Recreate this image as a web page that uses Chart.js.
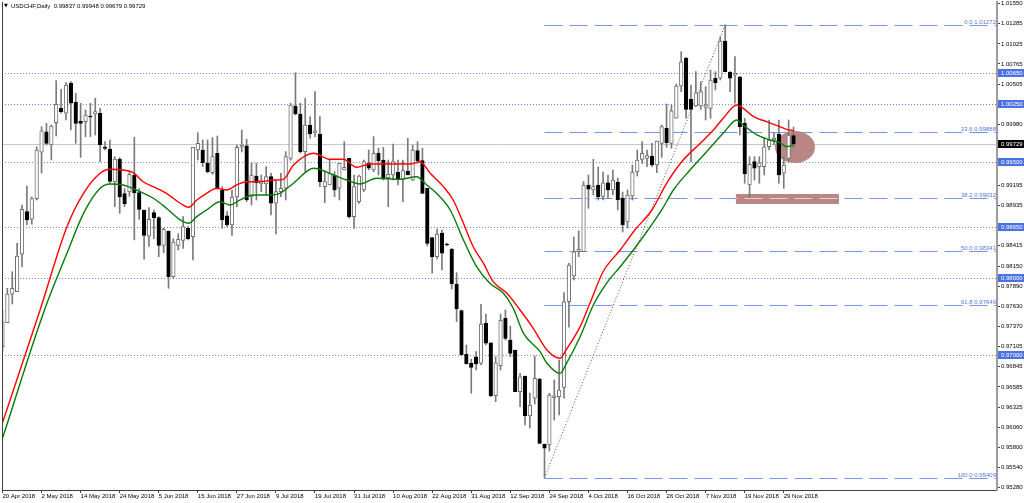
<!DOCTYPE html>
<html>
<head>
<meta charset="utf-8">
<script src="https://cdn.jsdelivr.net/npm/chart.js@4.4.1/dist/chart.umd.min.js"></script>
<style>
html, body { margin: 0; padding: 0; background: #fff; }
canvas { display: block; }
</style>
</head>
<body>
<canvas id="myChart" width="1024" height="503"></canvas>
<script>
'use strict';

const symbolName = 'USDCHF,Daily';

// daily candles, bar 0 = 20 Apr 2018 ... bar 162 = 3 Dec 2018
const opens = [
  0.97106, 0.97416, 0.97786, 0.97818, 0.98302, 0.98853, 0.98755, 0.99023, 0.99622, 0.99888,
  0.99716, 1.00004, 1.00191, 1.00127, 1.00515, 1.00269, 1.00027, 1.00018, 1.00085, 1.00114,
  1.00127, 0.99690, 0.99664, 0.99237, 0.99535, 0.99087, 0.99108, 0.99328, 0.99100, 0.98875,
  0.98537, 0.98840, 0.98776, 0.98417, 0.98603, 0.98012, 0.98417, 0.98482, 0.98638, 0.98530,
  0.99652, 0.99652, 0.99479, 0.99358, 0.99609, 0.99134, 0.98798, 0.98681, 0.99043, 0.99687,
  0.99707, 0.99043, 0.99315, 0.99212, 0.99212, 0.99306, 0.98962, 0.99112, 0.99156, 0.99544,
  1.00221, 1.00118, 0.99630, 0.99975, 0.99876, 0.99859, 0.99177, 0.99199, 0.99328, 0.99156,
  0.99393, 0.99544, 0.98789, 0.98982, 0.99134, 0.99487, 0.99393, 0.99609, 0.99522, 0.99293,
  0.99328, 0.99363, 0.99272, 0.99380, 0.99263, 0.99643, 0.99513, 0.99156, 0.98517, 0.98271,
  0.98577, 0.98435, 0.98366, 0.97917, 0.97572, 0.97007, 0.96891, 0.96976, 0.96891, 0.97408,
  0.97157, 0.96472, 0.96860, 0.97472, 0.97192, 0.97063, 0.96523, 0.96726, 0.96209, 0.96438,
  0.96684, 0.95842, 0.95833, 0.96445, 0.96459, 0.96580, 0.97688, 0.98021, 0.98336, 0.98336,
  0.99199, 0.99134, 0.99199, 0.99052, 0.99225, 0.99134, 0.99237, 0.99030, 0.98720, 0.99056,
  0.99367, 0.99531, 0.99544, 0.99574, 0.99457, 0.99738, 0.99932, 0.99738, 1.00062, 1.00480,
  1.00838, 1.00308, 1.00221, 1.00221, 1.00204, 1.00191, 1.00580, 1.00580, 1.01062, 1.00657,
  1.00622, 1.00600, 0.99997, 0.99199, 0.99500, 0.99436, 0.99436, 0.99694, 0.99781, 0.99859,
  0.99350, 0.99544, 0.99837
];
const highs = [
  0.97581, 0.97862, 0.98077, 0.98444, 0.98940, 0.99186, 0.99043, 0.99694, 0.99953, 0.99997,
  0.99975, 1.00549, 1.00437, 1.00523, 1.00536, 1.00385, 1.00256, 1.00169, 1.00256, 1.00321,
  1.00191, 0.99759, 0.99781, 0.99565, 0.99552, 0.99152, 0.99371, 0.99816, 0.99152, 0.98875,
  0.98905, 0.98875, 0.98789, 0.98638, 0.98603, 0.98504, 0.98569, 0.98789, 0.98660, 0.99687,
  0.99875, 0.99781, 0.99781, 0.99811, 0.99833, 0.99177, 0.98853, 0.99134, 0.99716, 0.99910,
  0.99790, 0.99479, 0.99479, 0.99328, 0.99436, 0.99350, 0.99263, 0.99350, 0.99630, 1.00256,
  1.00652, 1.00256, 1.00321, 1.00083, 1.00406, 1.00083, 0.99371, 0.99531, 0.99371, 0.99479,
  0.99759, 0.99544, 0.99328, 0.99328, 0.99522, 0.99652, 0.99824, 0.99674, 0.99687, 0.99522,
  0.99729, 0.99522, 0.99522, 0.99803, 0.99716, 0.99759, 0.99674, 0.99156, 0.98517, 0.98629,
  0.98616, 0.98448, 0.98379, 0.98064, 0.97581, 0.97128, 0.96943, 0.97041, 0.97654, 0.97529,
  0.97157, 0.96976, 0.97529, 0.97581, 0.97373, 0.97063, 0.96761, 0.96726, 0.96506, 0.96985,
  0.96697, 0.95846, 0.96502, 0.96675, 0.96934, 0.97805, 0.98185, 0.98526, 0.98607, 0.99242,
  0.99328, 0.99531, 0.99432, 0.99367, 0.99328, 0.99393, 0.99289, 0.99108, 0.99134, 0.99457,
  0.99652, 0.99759, 0.99652, 0.99738, 0.99768, 0.99975, 1.00247, 1.00234, 1.00506, 1.00924,
  1.00851, 1.00493, 1.00665, 1.00536, 1.00471, 1.00687, 1.00665, 1.01118, 1.01272, 1.00665,
  1.00859, 1.00600, 1.00062, 0.99565, 0.99565, 0.99565, 0.99803, 1.00040, 0.99872, 1.00040,
  0.99565, 1.00040, 0.99948
];
const lows = [
  0.97040, 0.97416, 0.97658, 0.97818, 0.98141, 0.98681, 0.98694, 0.99004, 0.99354, 0.99716,
  0.99522, 0.99833, 1.00127, 1.00040, 0.99910, 0.99738, 0.99557, 0.99824, 0.99824, 0.99846,
  0.99500, 0.99652, 0.99224, 0.98918, 0.98832, 0.98918, 0.99052, 0.98488, 0.98755, 0.98237,
  0.98404, 0.98504, 0.98271, 0.98323, 0.97862, 0.97991, 0.98357, 0.98379, 0.98488, 0.98228,
  0.99522, 0.99436, 0.99354, 0.99337, 0.99143, 0.98638, 0.98660, 0.98546, 0.98918, 0.99626,
  0.98982, 0.98940, 0.99004, 0.99112, 0.99069, 0.98811, 0.98564, 0.99047, 0.99004, 0.99522,
  1.00105, 0.99609, 0.99371, 0.99803, 0.99824, 0.99177, 0.98970, 0.99199, 0.99047, 0.99004,
  0.99393, 0.98768, 0.98638, 0.98961, 0.99112, 0.99393, 0.99371, 0.99328, 0.99263, 0.98918,
  0.99263, 0.99199, 0.98982, 0.99328, 0.99254, 0.99479, 0.99091, 0.98409, 0.98056, 0.98241,
  0.98099, 0.98409, 0.97853, 0.97429, 0.96998, 0.96882, 0.96503, 0.96804, 0.96869, 0.97128,
  0.96459, 0.96394, 0.96804, 0.97192, 0.96976, 0.96523, 0.96329, 0.96092, 0.96053, 0.96364,
  0.95855, 0.95409, 0.95756, 0.96157, 0.96222, 0.96438, 0.97357, 0.97969, 0.98271, 0.98336,
  0.98897, 0.99069, 0.99004, 0.99004, 0.99030, 0.99069, 0.98875, 0.98590, 0.98642, 0.99004,
  0.99315, 0.99479, 0.99436, 0.99436, 0.99358, 0.99557, 0.99687, 0.99674, 1.00062, 1.00406,
  1.00062, 0.99500, 1.00212, 1.00178, 1.00040, 1.00062, 1.00428, 1.00558, 1.00665, 1.00406,
  1.00256, 0.99846, 0.99221, 0.99040, 0.99263, 0.99221, 0.99328, 0.99652, 0.99716, 0.99221,
  0.99156, 0.99500, 0.99679
];
const closes = [
  0.97429, 0.97786, 0.97862, 0.98280, 0.98884, 0.98746, 0.99023, 0.99652, 0.99901, 0.99738,
  0.99962, 1.00243, 1.00148, 1.00493, 1.00256, 0.99997, 0.99997, 1.00105, 1.00079, 1.00148,
  0.99716, 0.99671, 0.99245, 0.99535, 0.99043, 0.98953, 0.99337, 0.99095, 0.98884, 0.98546,
  0.98755, 0.98776, 0.98417, 0.98625, 0.98012, 0.98460, 0.98495, 0.98660, 0.98504, 0.99687,
  0.99738, 0.99487, 0.99371, 0.99565, 0.99152, 0.98746, 0.98681, 0.99043, 0.99687, 0.99716,
  0.99004, 0.99328, 0.99228, 0.99263, 0.99306, 0.98962, 0.99112, 0.99156, 0.99565, 1.00234,
  1.00118, 0.99630, 0.99975, 0.99859, 0.99898, 0.99242, 0.99242, 0.99350, 0.99134, 0.99479,
  0.99428, 0.98789, 0.99177, 0.99315, 0.99500, 0.99415, 0.99609, 0.99513, 0.99276, 0.99337,
  0.99500, 0.99272, 0.99384, 0.99328, 0.99652, 0.99513, 0.99091, 0.98444, 0.98271, 0.98564,
  0.98315, 0.98422, 0.97917, 0.97594, 0.96998, 0.96882, 0.96839, 0.96882, 0.97399, 0.97150,
  0.96472, 0.96898, 0.97447, 0.97214, 0.97020, 0.96523, 0.96717, 0.96209, 0.96351, 0.96697,
  0.95855, 0.95791, 0.96480, 0.96471, 0.96545, 0.97688, 0.98163, 0.98332, 0.98366, 0.99199,
  0.99143, 0.99177, 0.99043, 0.99225, 0.99134, 0.99263, 0.99004, 0.98681, 0.99069, 0.99367,
  0.99522, 0.99609, 0.99578, 0.99457, 0.99768, 0.99953, 0.99746, 1.00160, 1.00480, 1.00794,
  1.00178, 1.00178, 1.00393, 1.00406, 1.00234, 1.00558, 1.00523, 1.01062, 1.00665, 1.00580,
  1.00644, 0.99953, 0.99341, 0.99466, 0.99415, 0.99487, 0.99694, 0.99781, 0.99807, 0.99328,
  0.99457, 0.99846, 0.99729
];

// moving averages: [bar, price]
const redMa = [
  [0, 0.96122], [7.7, 0.97581], [13.2, 0.98659], [16.6, 0.99091], [20.0, 0.99350], [22.0, 0.99402],
  [24.7, 0.99393], [26.8, 0.99358], [28.8, 0.99241], [31.6, 0.99156], [33.6, 0.99091], [36.4, 0.98962],
  [38.1, 0.98910], [39.8, 0.99004], [41.8, 0.99091], [43.9, 0.99156], [45.9, 0.99134], [48.0, 0.99199],
  [50.0, 0.99241], [52.7, 0.99241], [55.5, 0.99263], [57.5, 0.99272], [59.6, 0.99457], [63.7, 0.99609],
  [67.1, 0.99531], [69.8, 0.99531], [72.5, 0.99428], [75.3, 0.99470], [78.0, 0.99470], [83.5, 0.99470],
  [85.5, 0.99500], [87.6, 0.99350], [90.3, 0.99177], [92.3, 0.99004], [94.4, 0.98703], [96.4, 0.98400],
  [98.5, 0.98185], [100.5, 0.97947], [103.3, 0.97797], [106.0, 0.97581], [108.7, 0.97344], [111.5, 0.97063],
  [114.2, 0.96956], [115.5, 0.97072], [118.3, 0.97365], [120.3, 0.97667], [123.0, 0.98076], [126.5, 0.98357],
  [129.5, 0.98616], [133.0, 0.98875], [136.0, 0.99221], [139.1, 0.99500], [142.9, 0.99738], [145.6, 0.99910],
  [147.6, 1.00062], [150.4, 1.00234], [151.7, 1.00191], [153.8, 1.00083], [156.5, 1.00018], [159.2, 0.99953],
  [160.6, 0.99919], [162, 0.99901]
];
const greenMa = [
  [0, 0.95920], [8.6, 0.97581], [13.2, 0.98315], [16.6, 0.98832], [20.0, 0.99156], [22.0, 0.99212],
  [24.7, 0.99199], [28.2, 0.99112], [30.9, 0.99027], [33.6, 0.98897], [36.4, 0.98746], [38.1, 0.98703],
  [39.8, 0.98789], [41.8, 0.98875], [44.5, 0.98982], [46.6, 0.98940], [48.6, 0.99004], [51.4, 0.99069],
  [54.8, 0.99069], [56.8, 0.99091], [59.6, 0.99221], [63.7, 0.99415], [67.8, 0.99328], [70.5, 0.99263],
  [73.2, 0.99212], [76.6, 0.99285], [81.4, 0.99272], [84.8, 0.99306], [86.9, 0.99199], [88.9, 0.99091],
  [91.7, 0.98875], [94.4, 0.98487], [97.1, 0.98141], [99.8, 0.97926], [102.6, 0.97797], [104.6, 0.97603],
  [106.7, 0.97279], [110.1, 0.97041], [111.5, 0.96891], [114.2, 0.96761], [115.5, 0.96891], [118.3, 0.97235],
  [121.0, 0.97646], [123.7, 0.97926], [126.5, 0.98141], [129.2, 0.98357], [132.2, 0.98616], [135.0, 0.98875],
  [137.4, 0.99134], [140.8, 0.99393], [144.2, 0.99630], [147.6, 0.99868], [150.4, 1.00040], [151.7, 0.99975],
  [154.5, 0.99846], [157.2, 0.99781], [159.2, 0.99746], [160.6, 0.99694], [162, 0.99716]
];

const dateIdx = [0, 8, 16, 24, 32, 40, 48, 56, 64, 72, 80, 88, 96, 104, 112, 120, 128, 136, 144, 152, 160];
const dateLabels = ['20 Apr 2018', '2 May 2018', '14 May 2018', '24 May 2018', '5 Jun 2018', '15 Jun 2018',
  '27 Jun 2018', '9 Jul 2018', '19 Jul 2018', '31 Jul 2018', '10 Aug 2018', '22 Aug 2018', '31 Aug 2018',
  '12 Sep 2018', '24 Sep 2018', '4 Oct 2018', '16 Oct 2018', '26 Oct 2018', '7 Nov 2018', '19 Nov 2018', '29 Nov 2018'];

const priceTicks = [1.01550, 1.01285, 1.01025, 1.00765, 1.00505, 1.00250, 0.99980, 0.99720, 0.99460, 0.99195,
  0.98935, 0.98675, 0.98415, 0.98150, 0.97890, 0.97630, 0.97370, 0.97105, 0.96845, 0.96585, 0.96325,
  0.96060, 0.95800, 0.95540, 0.95280];

// horizontal levels (blue dotted) and fibo retracement
const levels = [1.00650, 1.00250, 0.99500, 0.98650, 0.98000, 0.97000];
const fibNames = ['0.0', '23.6', '38.2', '50.0', '61.8', '100.0'];
const fibPrices = [1.01272, 0.99888, 0.99032, 0.98341, 0.97649, 0.95409];
const fibFromBar = 111;
const fibToBar = 148;

const last = closes.length - 1;
const bidPrice = closes[last];

function line(ctx, x1, y1, x2, y2) {
  ctx.beginPath();
  ctx.moveTo(x1, y1);
  ctx.lineTo(x2, y2);
  ctx.stroke();
}

const overlay = {
  id: 'mt4Overlay',
  beforeDatasetsDraw(chart) {
    const {ctx, chartArea: a} = chart;
    const x = chart.scales.x;
    const y = chart.scales.y;
    ctx.save();
    ctx.beginPath();
    ctx.rect(a.left, a.top, a.right - a.left, a.bottom - a.top);
    ctx.clip();
    ctx.lineWidth = 1;

    // bid line
    let py = Math.round(y.getPixelForValue(bidPrice)) + 0.5;
    ctx.strokeStyle = '#c8c8c8';
    line(ctx, a.left, py, a.right, py);

    // levels
    ctx.strokeStyle = 'rgba(80,115,230,0.85)';
    ctx.setLineDash([1, 2]);
    levels.forEach(v => {
      py = Math.round(y.getPixelForValue(v)) + 0.5;
      line(ctx, a.left, py, a.right, py);
    });

    // fibo lines
    const fx = x.getPixelForValue(fibFromBar);
    ctx.strokeStyle = '#7394ea';
    ctx.setLineDash([18, 7]);
    fibPrices.forEach(v => {
      py = Math.round(y.getPixelForValue(v)) + 0.5;
      line(ctx, fx, py, a.right, py);
    });

    // fibo trend line
    ctx.strokeStyle = '#505050';
    ctx.setLineDash([1, 2]);
    line(ctx, fx, y.getPixelForValue(fibPrices[5]), x.getPixelForValue(fibToBar), y.getPixelForValue(fibPrices[0]));
    ctx.setLineDash([]);

    // ellipse + rectangle
    ctx.fillStyle = 'rgb(185,134,132)';
    const ex = x.getPixelForValue(162.3);
    const ey = y.getPixelForValue(0.99690);
    const erx = x.getPixelForValue(166.4) - ex;
    const ery = y.getPixelForValue(0.99690 - 0.00207) - ey;
    ctx.beginPath();
    ctx.ellipse(ex, ey, erx, ery, 0, 0, Math.PI * 2);
    ctx.fill();
    const rx1 = x.getPixelForValue(150.2);
    const rx2 = x.getPixelForValue(171.3);
    const ry1 = y.getPixelForValue(0.99082);
    const ry2 = y.getPixelForValue(0.98953);
    ctx.fillRect(rx1, ry1, rx2 - rx1, ry2 - ry1);
    ctx.strokeStyle = 'rgba(235,215,215,0.9)';
    ctx.setLineDash([18, 7]);
    ctx.save();
    ctx.beginPath();
    ctx.rect(rx1, ry1, rx2 - rx1, ry2 - ry1);
    ctx.clip();
    py = Math.round(y.getPixelForValue(fibPrices[2])) + 0.5;
    line(ctx, fx, py, a.right, py);
    ctx.restore();
    ctx.restore();
  },
  afterDraw(chart) {
    const {ctx, chartArea: a} = chart;
    const y = chart.scales.y;
    ctx.save();
    ctx.font = '6px "Liberation Sans", sans-serif';

    // fibo labels
    ctx.fillStyle = '#4f78e2';
    ctx.textAlign = 'right';
    ctx.textBaseline = 'bottom';
    fibPrices.forEach((v, i) => {
      const py = Math.round(y.getPixelForValue(v));
      ctx.fillText(fibNames[i] + ' ' + v.toFixed(5), a.right - 1, py);
    });

    // price boxes on the axis
    ctx.textAlign = 'left';
    ctx.textBaseline = 'middle';
    const box = (v, bg) => {
      const py = Math.round(y.getPixelForValue(v));
      ctx.fillStyle = bg;
      ctx.fillRect(a.right + 1, py - 4, 1024 - a.right - 1, 8);
      ctx.fillStyle = '#fff';
      ctx.fillText(v.toFixed(5), a.right + 4, py + 0.5);
    };
    levels.forEach(v => box(v, '#4a72e2'));
    box(bidPrice, '#000');

    // left border
    ctx.strokeStyle = '#404040';
    ctx.lineWidth = 1;
    line(ctx, a.left + 0.5, a.top, a.left + 0.5, a.bottom);

    // header
    ctx.fillStyle = '#000';
    ctx.font = '5px "DejaVu Sans", sans-serif';
    ctx.fillText('\u25BC', 4, 6);
    ctx.font = '6px "Liberation Sans", sans-serif';
    const vals = [opens[last], highs[last], lows[last], closes[last]].map(v => v.toFixed(5)).join(' ');
    ctx.fillText(symbolName + '  ' + vals, 11, 6);
    ctx.restore();
  }
};

const bodyData = opens.map((o, i) => ({x: i, y: [o, closes[i]]}));
const wickData = highs.map((h, i) => ({x: i, y: [lows[i], h]}));
const isUp = (c) => closes[c.dataIndex] >= opens[c.dataIndex];

const config = {
  type: 'bar',
  data: {
    datasets: [
      {
        type: 'line', label: 'MA red', order: 0,
        data: redMa.map(p => ({x: p[0], y: p[1]})),
        borderColor: '#ff0000', borderWidth: 1.4, pointRadius: 0, fill: false,
        cubicInterpolationMode: 'monotone'
      },
      {
        type: 'line', label: 'MA green', order: 0,
        data: greenMa.map(p => ({x: p[0], y: p[1]})),
        borderColor: '#0b7a0b', borderWidth: 1.4, pointRadius: 0, fill: false,
        cubicInterpolationMode: 'monotone'
      },
      {
        label: 'bodies', order: 1, grouped: false,
        data: bodyData,
        barThickness: 3.6, minBarLength: 1,
        backgroundColor: (c) => isUp(c) ? '#ffffff' : '#000000',
        borderColor: (c) => isUp(c) ? '#6f6f6f' : '#000000',
        borderWidth: 1, borderSkipped: false
      },
      {
        label: 'wicks', order: 2, grouped: false,
        data: wickData,
        barThickness: 1,
        backgroundColor: '#7a7a7a', borderWidth: 0
      }
    ]
  },
  options: {
    responsive: false,
    animation: false,
    events: [],
    layout: {padding: {left: 2, top: 2, right: 0, bottom: 0}},
    plugins: {legend: {display: false}, tooltip: {enabled: false}},
    scales: {
      x: {
        type: 'linear', position: 'bottom', min: -0.1, max: 203.67, offset: false,
        afterBuildTicks: (s) => { s.ticks = dateIdx.map(v => ({value: v})); },
        afterFit: (s) => { s.height = 13; s.paddingLeft = 0; s.paddingRight = 0; },
        grid: {drawOnChartArea: false, drawTicks: true, tickLength: 3, color: '#404040', offset: false},
        border: {display: true, color: '#404040', width: 1},
        ticks: {
          autoSkip: false, maxRotation: 0, minRotation: 0, align: 'start', padding: 0, color: '#000',
          font: {family: 'Liberation Sans', size: 6},
          callback: (v, i) => dateLabels[i]
        }
      },
      y: {
        type: 'linear', position: 'right', min: 0.95251, max: 1.01567,
        afterBuildTicks: (s) => { s.ticks = priceTicks.map(v => ({value: v})); },
        afterFit: (s) => { s.width = 27; s.paddingTop = 0; s.paddingBottom = 0; },
        grid: {drawOnChartArea: false, drawTicks: true, tickLength: 3, color: '#404040'},
        border: {display: true, color: '#9c9c9c', width: 2},
        ticks: {
          autoSkip: false, padding: 1, color: '#000',
          font: {family: 'Liberation Sans', size: 6},
          callback: (v) => v.toFixed(5)
        }
      }
    }
  },
  plugins: [overlay]
};

const canvasChart = document.getElementById('myChart');
const myChart = new Chart(canvasChart, config);
</script>
</body>
</html>
